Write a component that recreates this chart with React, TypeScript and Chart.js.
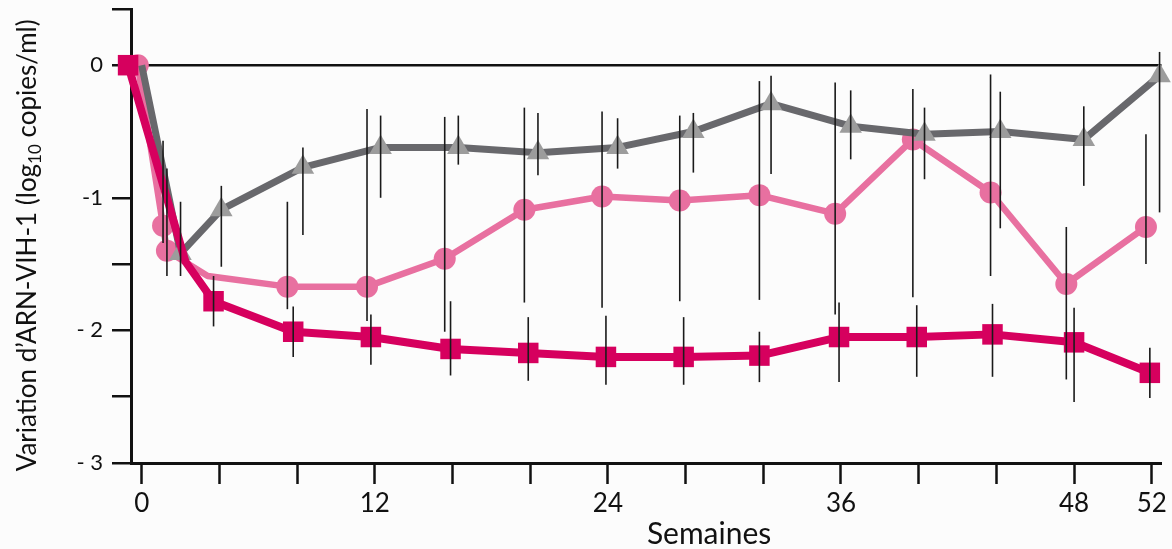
import React, { useEffect, useRef } from "react";
import { Chart, registerables } from "chart.js";

Chart.register(...registerables);

// ---- Data ----
const pinkWeeks = [-0.2, 1.1, 1.3, 3.4, 7.5, 11.6, 15.6, 19.7, 23.7, 27.7, 31.8, 35.7, 39.7, 43.7, 47.6, 51.7];
const pinkValues = [0, -1.21, -1.4, -1.59, -1.67, -1.67, -1.46, -1.09, -0.99, -1.02, -0.98, -1.12, -0.56, -0.96, -1.65, -1.22];
const pinkErrLow = [null, -1.34, -1.59, null, -1.84, -1.93, -2.01, -1.79, -1.83, -1.78, -1.77, -1.88, -1.75, -1.59, -2.37, -1.5];
const pinkErrHigh = [null, -0.57, -0.78, null, -1.03, -0.33, -0.39, -0.32, -0.35, -0.38, -0.12, -0.13, -0.18, -0.07, -1.22, -0.52];
const pinkHiddenMarkers = [3];

const magentaWeeks = [-0.7, 2.25, 3.7, 7.8, 11.8, 15.9, 19.9, 23.9, 27.9, 31.8, 35.9, 39.9, 43.8, 48.0, 51.9];
const magentaValues = [0, -1.48, -1.78, -2.01, -2.05, -2.14, -2.17, -2.2, -2.2, -2.19, -2.05, -2.05, -2.03, -2.09, -2.32];
const magentaErrLow = [null, null, -1.97, -2.2, -2.26, -2.34, -2.38, -2.41, -2.41, -2.39, -2.39, -2.35, -2.35, -2.54, -2.51];
const magentaErrHigh = [null, null, -1.59, -1.82, -1.88, -1.78, -1.9, -1.89, -1.9, -2.01, -1.79, -1.81, -1.8, -1.83, -2.13];
const magentaHiddenMarkers = [1];

const grayWeeks = [0, 2.0, 4.1, 8.3, 12.3, 16.3, 20.4, 24.5, 28.4, 32.4, 36.5, 40.3, 44.2, 48.5, 52.4];
const grayValues = [0, -1.42, -1.09, -0.77, -0.62, -0.62, -0.66, -0.62, -0.5, -0.29, -0.46, -0.52, -0.5, -0.56, -0.08];
const grayErrLow = [null, -1.59, -1.52, -1.28, -1.0, -0.75, -0.83, -0.78, -0.81, -0.82, -0.71, -0.86, -1.23, -0.91, -1.11];
const grayErrHigh = [null, -1.03, -0.91, -0.62, -0.38, -0.38, -0.36, -0.4, -0.36, -0.08, -0.19, -0.32, -0.2, -0.31, 0.1];
const grayHiddenMarkers = [0];

const xTickValues = [0, 4, 8, 12, 16, 20, 24, 28, 32, 36, 40, 44, 48, 52];
const xTickLabels = ["0", "", "", "12", "", "", "24", "", "", "36", "", "", "48", "52"];
const yTickValues = [0.42, 0, -1, -1.5, -2, -2.5, -3];
const yTickLabels = ["", "0", "-1", "", "- 2", "", "- 3"];

const xTitle = "Semaines";
const yTitleParts = ["Variation d\u2019ARN-VIH-1 (log", "10", " copies/ml)"];

// ---- Styles ----
const MAGENTA = "#d6005e";
const PINK = "#e870a0";
const GRAY_LINE = "#68686c";
const GRAY_MARK = "#9c9c9c";
const INK = "#111111";
const FONT = "Lato, 'Open Sans', sans-serif";

// canvas slightly larger than the window (Chart.js reserves point overflow padding)
const CANVAS_W = 1176;
const CANVAS_H = 554;
const CANVAS_SHIFT_Y = -5;

const toPoints = (weeks: number[], values: number[]) =>
  weeks.map((w, i) => ({ x: w, y: values[i] }));

const errorSeries = [
  { weeks: pinkWeeks, low: pinkErrLow, high: pinkErrHigh },
  { weeks: grayWeeks, low: grayErrLow, high: grayErrHigh },
  { weeks: magentaWeeks, low: magentaErrLow, high: magentaErrHigh },
];

const bgPlugin = {
  id: "bg",
  beforeDraw(chart: any) {
    const { ctx, width, height } = chart;
    ctx.save();
    ctx.fillStyle = "#fcfcfc";
    ctx.fillRect(0, 0, width, height);
    ctx.restore();
  },
};

const errorBarPlugin = {
  id: "errorBars",
  afterDatasetsDraw(chart: any) {
    const { ctx } = chart;
    const xs = chart.scales.x;
    const ys = chart.scales.y;
    ctx.save();
    ctx.strokeStyle = "#1a1a1a";
    ctx.lineWidth = 1.6;
    errorSeries.forEach((s) => {
      s.weeks.forEach((w, i) => {
        const lo = s.low[i];
        const hi = s.high[i];
        if (lo == null || hi == null) return;
        const px = xs.getPixelForValue(w);
        ctx.beginPath();
        ctx.moveTo(px, ys.getPixelForValue(lo));
        ctx.lineTo(px, ys.getPixelForValue(hi));
        ctx.stroke();
      });
    });
    ctx.restore();
  },
};

const titlesPlugin = {
  id: "titles",
  afterDraw(chart: any) {
    const { ctx, chartArea } = chart;
    ctx.save();
    ctx.fillStyle = INK;
    // x title
    ctx.font = `30px ${FONT}`;
    ctx.textAlign = "center";
    ctx.textBaseline = "middle";
    ctx.fillText(
      xTitle,
      chartArea.left + 0.561 * (chartArea.right - chartArea.left),
      chartArea.bottom + 71
    );
    // y title with subscript
    const mainFont = `26px ${FONT}`;
    const subFont = `17px ${FONT}`;
    ctx.font = mainFont;
    const w1 = ctx.measureText(yTitleParts[0]).width;
    const w3 = ctx.measureText(yTitleParts[2]).width;
    ctx.font = subFont;
    const w2 = ctx.measureText(yTitleParts[1]).width;
    const total = w1 + w2 + w3;
    const cy = chartArea.top + 0.52 * (chartArea.bottom - chartArea.top);
    ctx.translate(chartArea.left - 95, cy);
    ctx.rotate(-Math.PI / 2);
    ctx.textAlign = "left";
    ctx.textBaseline = "alphabetic";
    let x0 = -total / 2;
    ctx.font = mainFont;
    ctx.fillText(yTitleParts[0], x0, 0);
    x0 += w1;
    ctx.font = subFont;
    ctx.fillText(yTitleParts[1], x0, 5);
    x0 += w2;
    ctx.font = mainFont;
    ctx.fillText(yTitleParts[2], x0, 0);
    ctx.restore();
  },
};

const radiusFor = (hidden: number[], r: number) => (c: any) =>
  hidden.includes(c.dataIndex) ? 0 : r;

const yLabelFor = (v: number) => {
  const i = yTickValues.indexOf(Number(v));
  return i >= 0 ? yTickLabels[i] : "";
};

export default function App() {
  const ref = useRef<HTMLCanvasElement>(null);

  useEffect(() => {
    const canvas = ref.current;
    if (!canvas) return;
    const chart = new Chart(canvas, {
      type: "line",
      data: {
        datasets: [
          {
            label: "magenta",
            data: toPoints(magentaWeeks, magentaValues),
            borderColor: MAGENTA,
            backgroundColor: MAGENTA,
            borderWidth: 8,
            pointStyle: "rect",
            pointRadius: radiusFor(magentaHiddenMarkers, 14.5),
            pointBorderWidth: 0,
            pointBackgroundColor: MAGENTA,
            borderJoinStyle: "round",
            order: 0,
            clip: false,
          },
          {
            label: "gray",
            data: toPoints(grayWeeks, grayValues),
            borderColor: GRAY_LINE,
            backgroundColor: GRAY_MARK,
            borderWidth: 7,
            pointStyle: "triangle",
            pointRadius: radiusFor(grayHiddenMarkers, 13),
            pointBorderWidth: 0,
            pointBackgroundColor: GRAY_MARK,
            borderJoinStyle: "round",
            order: 1,
            clip: false,
          },
          {
            label: "pink",
            data: toPoints(pinkWeeks, pinkValues),
            borderColor: PINK,
            backgroundColor: PINK,
            borderWidth: 6.5,
            pointStyle: "circle",
            pointRadius: radiusFor(pinkHiddenMarkers, 11),
            pointBorderWidth: 0,
            pointBackgroundColor: PINK,
            borderJoinStyle: "round",
            order: 2,
            clip: false,
          },
        ] as any,
      },
      options: {
        responsive: false,
        animation: false,
        devicePixelRatio: 1,
        layout: { padding: { left: 0, top: 10, right: 11, bottom: 0 } },
        plugins: {
          legend: { display: false },
          tooltip: { enabled: false },
        },
        scales: {
          x: {
            type: "linear",
            min: -0.55,
            max: 52.5,
            afterFit: (s: any) => {
              s.height = 86 - CANVAS_SHIFT_Y - (CANVAS_H - 549);
            },
            afterBuildTicks: (s: any) => {
              s.ticks = xTickValues.map((v) => ({ value: v }));
            },
            border: { display: true, color: INK, width: 3 },
            grid: {
              drawOnChartArea: false,
              drawTicks: true,
              tickLength: 21,
              tickWidth: 2.5,
              tickColor: INK,
              color: "rgba(0,0,0,0)",
            },
            ticks: {
              autoSkip: false,
              maxRotation: 0,
              padding: 4,
              color: INK,
              font: { family: FONT, size: 26 },
              callback: (v: any) => {
                const i = xTickValues.indexOf(Number(v));
                return i >= 0 ? xTickLabels[i] : "";
              },
            },
          },
          y: {
            type: "linear",
            min: -3,
            max: 0.42,
            afterFit: (s: any) => {
              s.width = 131;
            },
            afterBuildTicks: (s: any) => {
              s.ticks = [...yTickValues].sort((a, b) => a - b).map((v) => ({ value: v }));
            },
            border: { display: true, color: INK, width: 3 },
            grid: {
              drawOnChartArea: true,
              drawTicks: true,
              tickLength: 19,
              tickWidth: 2.5,
              tickColor: INK,
              color: (c: any) => (c.tick && c.tick.value === 0 ? INK : "rgba(0,0,0,0)"),
              lineWidth: 2.5,
            },
            ticks: {
              autoSkip: false,
              padding: 9,
              color: INK,
              font: (c: any) =>
                c.tick && yLabelFor(c.tick.value) === ""
                  ? { family: FONT, size: 1, lineHeight: 1 }
                  : { family: FONT, size: 22 },
              callback: (v: any) => yLabelFor(v),
            },
          },
        },
      } as any,
      plugins: [bgPlugin, errorBarPlugin, titlesPlugin],
    });
    return () => chart.destroy();
  }, []);

  return (
    <div
      style={{
        position: "fixed",
        left: 0,
        top: CANVAS_SHIFT_Y,
        width: CANVAS_W,
        height: CANVAS_H,
        background: "#fcfcfc",
      }}
    >
      <canvas ref={ref} width={CANVAS_W} height={CANVAS_H} style={{ display: "block" }} />
    </div>
  );
}
